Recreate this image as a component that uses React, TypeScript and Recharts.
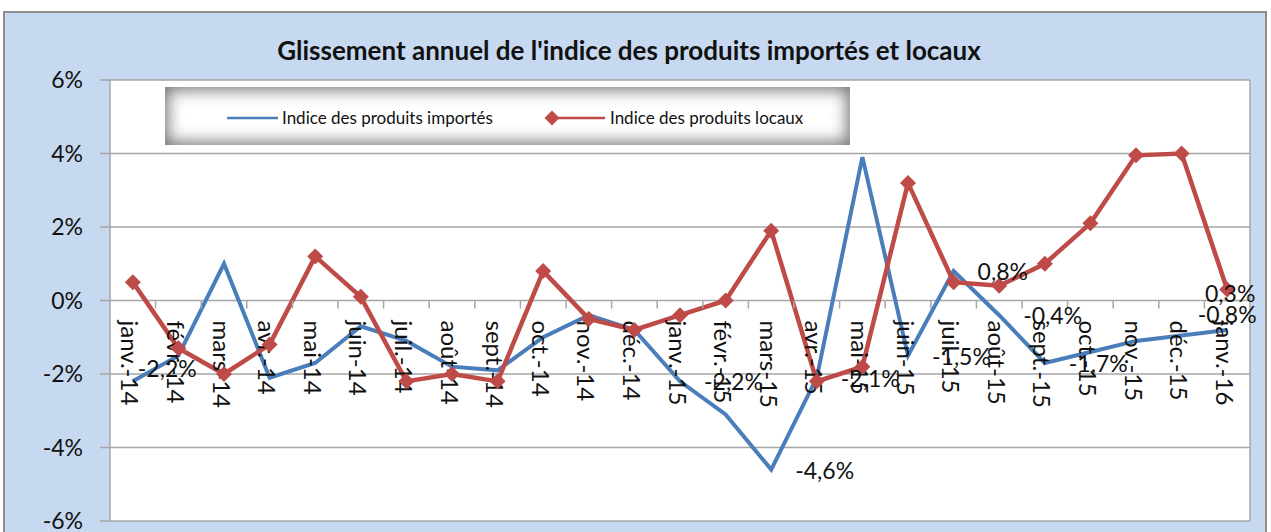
import React from "react";
import { LineChart, Line, XAxis, YAxis, CartesianGrid, ReferenceDot, LabelList } from "recharts";

// valeurs (glissement annuel, en %)
const mois = [
  "janv.-14", "févr.-14", "mars-14", "avr.-14", "mai-14", "juin-14", "juil.-14", "août-14", "sept.-14",
  "oct.-14", "nov.-14", "déc.-14", "janv.-15", "févr.-15", "mars-15", "avr.-15", "mai-15", "juin-15",
  "juil.-15", "août-15", "sept.-15", "oct.-15", "nov.-15", "déc.-15", "janv.-16",
];
const importes = [
  -2.2, -1.5, 1.0, -2.1, -1.7, -0.7, -1.1, -1.8, -1.9, -1.0, -0.4, -0.8, -2.2,
  -3.1, -4.6, -2.1, 3.9, -1.5, 0.8, -0.4, -1.7, -1.4, -1.1, -0.95, -0.8,
];
const locaux = [
  0.5, -1.3, -2.0, -1.2, 1.2, 0.1, -2.2, -2.0, -2.2, 0.8, -0.5, -0.8, -0.4,
  0.0, 1.9, -2.2, -1.8, 3.2, 0.5, 0.4, 1.0, 2.1, 3.95, 4.0, 0.3,
];
const graduations = [-6, -4, -2, 0, 2, 4, 6];
const moisEtiquetesImportes = ["janv.-14", "janv.-15", "mars-15", "avr.-15", "juin-15", "juil.-15", "août-15", "sept.-15", "janv.-16"];
const moisEtiquetesLocaux = ["janv.-16"];

const titre = "Glissement annuel de l'indice des produits importés et locaux";
const nomImportes = "Indice des produits importés";
const nomLocaux = "Indice des produits locaux";

const data = mois.map((m, i) => ({ mois: m, importes: importes[i], locaux: locaux[i] }));

const BLEU = "#4A7EBB";
const ROUGE = "#BE4B48";
const GRILLE = "#A6A6A6";
const POLICE = "Lato, 'Open Sans', sans-serif";

const W = 1271;
const H = 532;
const MARGE = { top: 80, right: 21, bottom: 11, left: 0 };
const LARGEUR_AXE_Y = 110;
const demiBande = (W - MARGE.left - MARGE.right - LARGEUR_AXE_Y) / mois.length / 2;

const pct = (v: number) => `${v.toFixed(1).replace(".", ",")}%`;

const losange = (cx: number, cy: number, r: number) =>
  `M${cx},${cy - r}L${cx + r},${cy}L${cx},${cy + r}L${cx - r},${cy}Z`;

// position des étiquettes de données (à droite du point, sauf exceptions)
const placement = (m: string, serie: string) => {
  if (serie === "importes" && m === "janv.-14") return { dx: 5, dy: -13, anchor: "start" };
  if (m === "janv.-16") return serie === "importes" ? { dx: 0, dy: -16, anchor: "middle" } : { dx: 3, dy: 4, anchor: "middle" };
  return { dx: 24, dy: 0, anchor: "start" };
};

const etiquette = (serie: string, liste: string[]) => (props: any) => {
  const vb = props.viewBox || {};
  const x = props.x ?? vb.x;
  const y = props.y ?? vb.y;
  const m = mois[props.index];
  if (!liste.includes(m) || x == null || y == null) return null;
  const p = placement(m, serie);
  return (
    <text x={x + p.dx} y={y + p.dy} textAnchor={p.anchor} dominantBaseline="central"
      fontFamily={POLICE} fontSize={23} fill="#111">
      {pct(props.value)}
    </text>
  );
};

const EtiquetteMois = ({ cx, cy, m }: any) => (
  <g>
    {m !== mois[mois.length - 1] && (
      <line x1={cx + demiBande} x2={cx + demiBande} y1={cy} y2={cy + 8} stroke={GRILLE} strokeWidth={1.5} />
    )}
    <text transform={`translate(${cx - 2},${cy + 20}) rotate(90)`} dominantBaseline="central"
      fontFamily={POLICE} fontSize={24} fill="#111">
      {m}
    </text>
  </g>
);

const Legende = () => (
  <div style={{ position: "absolute", left: 165, top: 87, width: 685, height: 58, background: "#fff",
    boxShadow: "inset 0 0 16px 3px rgba(0,0,0,0.55)", fontSize: 17, color: "#111" }}>
    <svg width={685} height={58} style={{ position: "absolute", left: 0, top: 0 }}>
      <line x1={62} x2={113} y1={31} y2={31} stroke={BLEU} strokeWidth={2.5} />
      <line x1={387} x2={440} y1={31} y2={31} stroke={ROUGE} strokeWidth={2.5} />
      <path d={losange(387, 31, 7.5)} fill={ROUGE} />
    </svg>
    <span style={{ position: "absolute", left: 117, top: 20, lineHeight: "22px" }}>{nomImportes}</span>
    <span style={{ position: "absolute", left: 445, top: 20, lineHeight: "22px" }}>{nomLocaux}</span>
  </div>
);

export default function App() {
  return (
    <div style={{ position: "absolute", left: 0, top: 0, width: W, height: H, background: "#fff", overflow: "hidden", fontFamily: POLICE }}>
      <div style={{ position: "absolute", left: 3, top: 11, width: 1264, height: 560, background: "#C6D9F0",
        border: "2px solid #8E8E8E", boxSizing: "border-box" }} />
      <div style={{ position: "absolute", left: 0, top: 35, width: 1258, textAlign: "center", fontWeight: 700,
        fontSize: 26, lineHeight: "30px", color: "#111" }}>
        {titre}
      </div>
      <div style={{ position: "absolute", left: 0, top: 0 }}>
        <LineChart width={W} height={H} data={data} margin={MARGE}>
          <CartesianGrid fill="#fff" stroke={GRILLE} strokeWidth={1.5}
            verticalCoordinatesGenerator={({ offset }: any) => [offset.left + offset.width]} />
          <XAxis dataKey="mois" scale="band" hide />
          <YAxis width={LARGEUR_AXE_Y} domain={[-6, 6]} ticks={graduations} interval={0}
            tickFormatter={(v) => `${v}%`} axisLine={{ stroke: GRILLE, strokeWidth: 1.5 }}
            tickLine={{ stroke: GRILLE, strokeWidth: 1.5 }} tickSize={10} tickMargin={17}
            tick={{ fontSize: 23, fontFamily: POLICE, fill: "#111" }} />
          {mois.map((m) => (
            <ReferenceDot key={m} x={m} y={0} r={0} ifOverflow="visible"
              shape={(p: any) => <EtiquetteMois cx={p.cx} cy={p.cy} m={m} />} />
          ))}
          <Line type="linear" dataKey="importes" stroke={BLEU} strokeWidth={4} dot={false} isAnimationActive={false}>
            <LabelList dataKey="importes" content={etiquette("importes", moisEtiquetesImportes)} />
          </Line>
          <Line type="linear" dataKey="locaux" stroke={ROUGE} strokeWidth={4.5} isAnimationActive={false}
            dot={(p: any) => <path key={`d-${p.index}`} d={losange(p.cx, p.cy, 8)} fill={ROUGE} />}>
            <LabelList dataKey="locaux" content={etiquette("locaux", moisEtiquetesLocaux)} />
          </Line>
        </LineChart>
      </div>
      <Legende />
    </div>
  );
}
